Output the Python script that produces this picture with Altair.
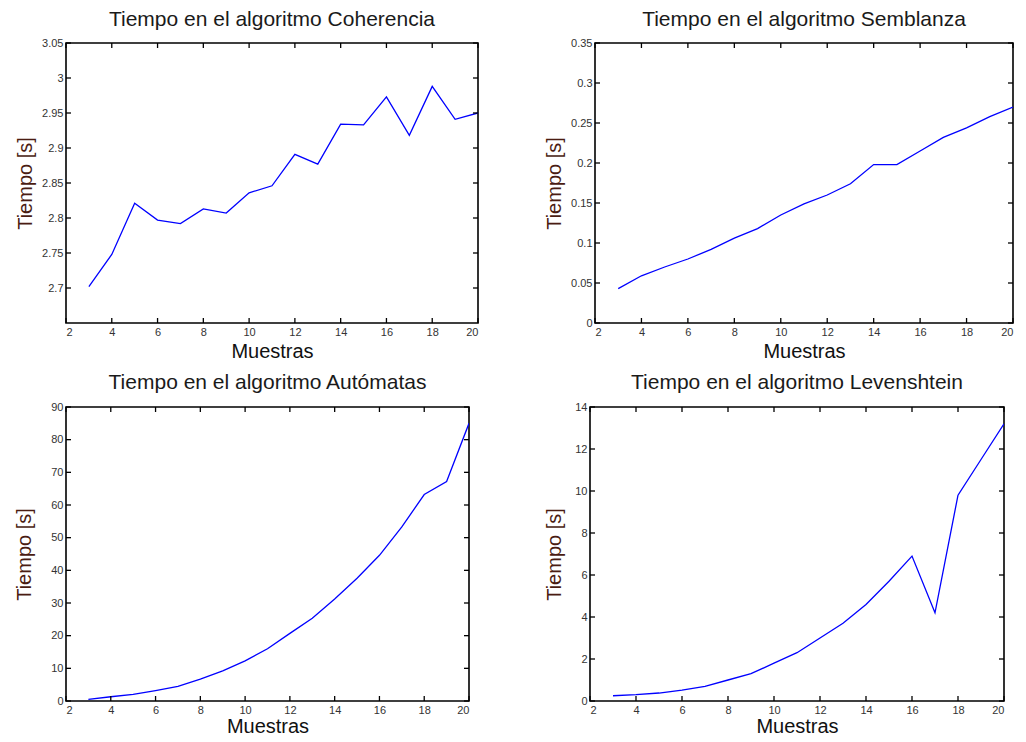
import altair as alt
import pandas as pd

muestras = list(range(3, 21))
x_ticks = [2, 4, 6, 8, 10, 12, 14, 16, 18, 20]

coherencia = [2.702, 2.748, 2.821, 2.797, 2.792, 2.813, 2.807, 2.836, 2.846,
              2.891, 2.877, 2.934, 2.933, 2.973, 2.918, 2.988, 2.941, 2.950]
semblanza = [0.043, 0.059, 0.070, 0.080, 0.092, 0.106, 0.118, 0.135, 0.149,
             0.160, 0.174, 0.198, 0.198, 0.215, 0.232, 0.244, 0.258, 0.270]
automatas = [0.5, 1.3, 2.0, 3.2, 4.5, 6.7, 9.2, 12.3, 16.0,
             20.7, 25.3, 31.2, 37.6, 44.6, 53.3, 63.2, 67.2, 85.0]
levenshtein = [0.25, 0.30, 0.38, 0.52, 0.70, 1.0, 1.3, 1.8, 2.3,
               3.0, 3.7, 4.6, 5.7, 6.9, 4.2, 9.8, 11.5, 13.2]

coh_ticks = [2.7, 2.75, 2.8, 2.85, 2.9, 2.95, 3.0, 3.05]
sem_ticks = [0, 0.05, 0.1, 0.15, 0.2, 0.25, 0.3, 0.35]
aut_ticks = [0, 10, 20, 30, 40, 50, 60, 70, 80, 90]
lev_ticks = [0, 2, 4, 6, 8, 10, 12, 14]

FONT = "Liberation Sans"
TICK = 5


def panel(title, values, ydom, yticks, w, h, toff, ytp, xtp):
    df = pd.DataFrame({"Muestras": muestras, "Tiempo": values})
    xs = alt.Scale(domain=[2, 20], nice=False, zero=False)
    ys = alt.Scale(domain=ydom, nice=False, zero=False)
    xax = alt.Axis(values=x_ticks, title="Muestras", format=".2~f", titlePadding=xtp)
    yax = alt.Axis(values=yticks, title="Tiempo [s]", format=".2~f",
                   titleColor="#4a1c12", titlePadding=ytp)
    line = alt.Chart(df).mark_line(color="#0000ff", strokeWidth=1.3, clip=True).encode(
        x=alt.X("Muestras:Q", scale=xs, axis=xax),
        y=alt.Y("Tiempo:Q", scale=ys, axis=yax),
    )
    xt = pd.DataFrame({"Muestras": x_ticks})
    yt = pd.DataFrame({"Tiempo": yticks})
    rk = dict(color="black", strokeWidth=1.3)
    bot = alt.Chart(xt).mark_rule(**rk).encode(
        x=alt.X("Muestras:Q", scale=xs, axis=xax), y=alt.value(h), y2=alt.value(h - TICK))
    top = alt.Chart(xt).mark_rule(**rk).encode(
        x=alt.X("Muestras:Q", scale=xs, axis=xax), y=alt.value(0), y2=alt.value(TICK))
    left = alt.Chart(yt).mark_rule(**rk).encode(
        y=alt.Y("Tiempo:Q", scale=ys, axis=yax), x=alt.value(0), x2=alt.value(TICK))
    right = alt.Chart(yt).mark_rule(**rk).encode(
        y=alt.Y("Tiempo:Q", scale=ys, axis=yax), x=alt.value(w - TICK), x2=alt.value(w))
    return alt.layer(line, bot, top, left, right).properties(
        width=w, height=h,
        view=alt.ViewBackground(stroke="black", strokeWidth=1.6, fill="white"),
        title=alt.Title(title, offset=toff, fontSize=21, font=FONT,
                        fontWeight="normal", color="#1a1a1a"),
    )


p1 = panel("Tiempo en el algoritmo Coherencia", coherencia, [2.65, 3.05], coh_ticks,
           412, 280, 7, 6, 4)
p2 = panel("Tiempo en el algoritmo Semblanza", semblanza, [0, 0.35], sem_ticks,
           418, 280, 7, 6, 4)
p3 = panel("Tiempo en el algoritmo  Autómatas", automatas, [0, 90], aut_ticks,
           403, 294, 8, 16, 1)
p4 = panel("Tiempo en el algoritmo  Levenshtein", levenshtein, [0, 14], lev_ticks,
           414, 294, 8, 10, 1)

chart = alt.concat(p1, p2, p3, p4, columns=2, align="none",
                   spacing={"row": 9, "column": 63}).configure(
    background="white", padding={"left": 5, "top": 0, "right": 0, "bottom": 0}
).configure_axis(
    ticks=False, domain=False, grid=False,
    labelFont=FONT, labelFontSize=11, labelColor="#333333", labelPadding=3,
    titleFont=FONT, titleFontSize=20, titleFontWeight="normal", titleColor="#111111",
)

chart.save("out.html", embed_options={"renderer": "svg", "actions": False})
